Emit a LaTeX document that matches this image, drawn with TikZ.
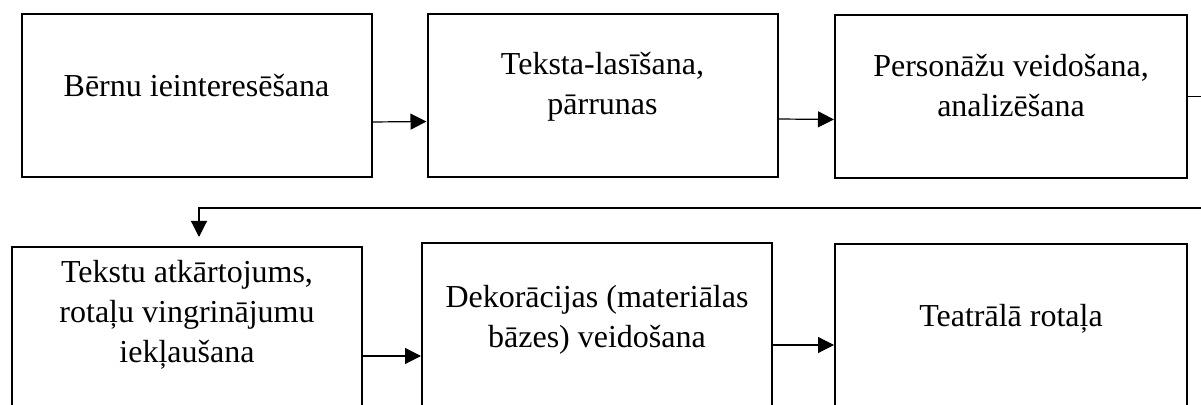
\documentclass[tikz,border=0pt]{standalone}
\usepackage{fontspec}
\setmainfont{Liberation Serif}
\usetikzlibrary{positioning,arrows.meta}

\begin{document}
\begin{tikzpicture}[x=0.5pt,y=-0.5pt,
    box/.style={draw,line width=1pt,minimum width=175pt,minimum height=81.5pt,inner sep=0pt},
    txt/.style={align=center,inner sep=0pt,font=\fontsize{16}{20}\selectfont},
    arr/.style={line width=0.6pt,-{Triangle[length=8pt,width=8pt]}}]
    \clip (0,0) rectangle (1201,405);

    % Top row
    \node[box] (b1) at (196.5,96) {};
    \node[box] (b2) at (602.5,95.5) {};
    \node[box,minimum width=176pt] (b3) at (1011,96.5) {};

    % Bottom row
    \node[box] (b4) at (187,328.5) {};
    \node[box] (b5) at (597,324.5) {};
    \node[box,minimum width=176pt] (b6) at (1011,325.5) {};

    % Texts
    \node[txt,below=27.5pt of b1.north] (t1) {\strut B\={e}rnu ieinteres\={e}\v{s}ana};
    \node[txt,below=16.5pt of b2.north] (t2) {\strut Teksta-las\={\i}\v{s}ana,\\p\={a}rrunas};
    \node[txt,below=17pt of b3.north] (t3) {\strut Person\={a}\v{z}u veido\v{s}ana,\\analiz\={e}\v{s}ana};
    \node[txt,below=4pt of b4.north] (t4) {\strut Tekstu atk\={a}rtojums,\\rotaļu vingrin\={a}jumu\\iekļau\v{s}ana};
    \node[txt,below=18.5pt of b5.north] (t5) {\strut Dekor\={a}cijas (materi\={a}las\\b\={a}zes) veido\v{s}ana};
    \node[txt,below=27.5pt of b6.north] (t6) {\strut Teatr\={a}l\={a} rotaļa};

    % Arrows
    \draw[arr] ([yshift=-13pt]b1.east) -- ([yshift=-13pt]b2.west);
    \draw[arr] ([yshift=-11.75pt]b2.east) -- ([yshift=-11.5pt]b3.west);
    \draw[arr] ([yshift=-13.75pt]b4.east) -- ([yshift=-15.75pt]b5.west);
    \draw[arr] ([yshift=-10.25pt]b5.east) -- ([yshift=-9.75pt]b6.west);

    % Turn to second row
    \coordinate (r1) at (1215,96.5);
    \coordinate (r2) at (1215,208);
    \coordinate (l1) at (199,208);
    \coordinate (l2) at (199,237);
    \draw[arr] (b3.east) -- (r1) -- (r2) -- (l1) -- (l2);
\end{tikzpicture}
\end{document}
